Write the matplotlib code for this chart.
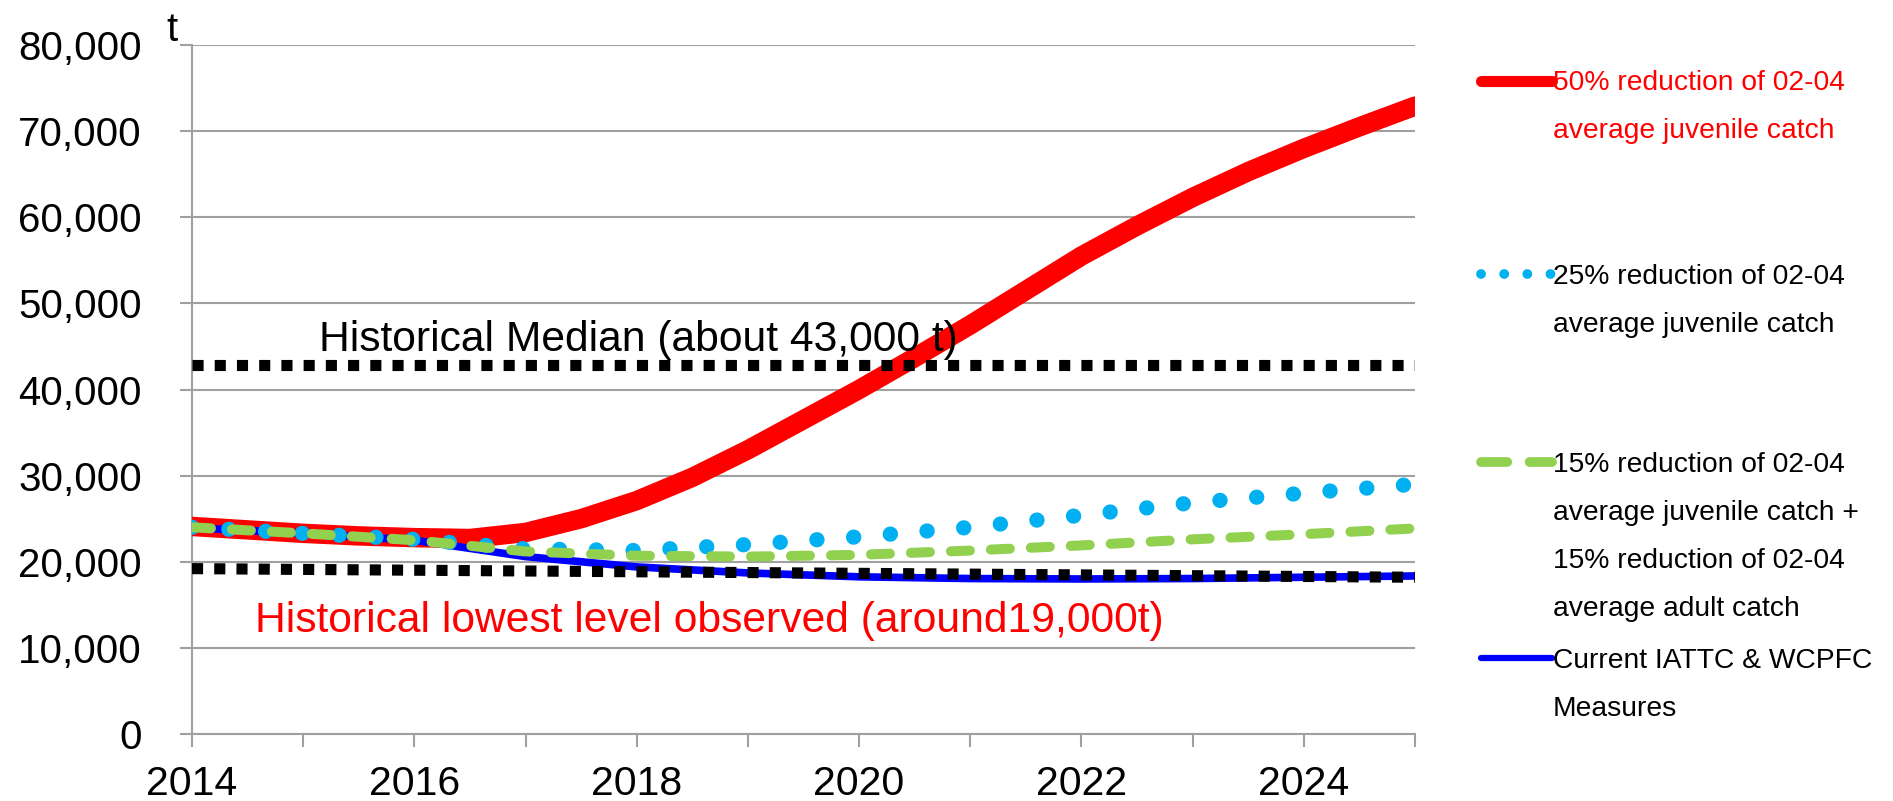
import matplotlib
matplotlib.use("Agg")
import matplotlib.pyplot as plt
from matplotlib.lines import Line2D
from matplotlib.ticker import FuncFormatter, MultipleLocator
import numpy as np

plt.rcParams['font.family'] = ['Liberation Sans', 'DejaVu Sans']

# values (tonnes)
years_half = np.arange(2014, 2025.01, 0.5)
red_50 = [24100, 23700, 23300, 23000, 22800, 22700, 23400, 25000, 27100, 29800,
          33000, 36500, 40000, 43700, 47500, 51500, 55500, 59000, 62300, 65300,
          68000, 70500, 72900]
years = np.arange(2014, 2026)
cyan_25 = [24000, 23300, 22600, 21500, 21300, 22000, 22900, 24000, 25400, 26850, 27970, 29000]
green_15 = [24000, 23300, 22500, 21200, 20700, 20600, 20800, 21300, 21900, 22600, 23200, 23870]
blue_cur = [23950, 23300, 22500, 20600, 19400, 18700, 18250, 18050, 18000, 18050, 18200, 18350]
median_x = [2014, 2025]
median_y = [42900, 42900]
lowest_x = [2014, 2025]
lowest_y = [19200, 18200]

labels = ["50% reduction of 02-04\naverage juvenile catch",
          "25% reduction of 02-04\naverage juvenile catch",
          "15% reduction of 02-04\naverage juvenile catch +\n15% reduction of 02-04\naverage adult catch",
          "Current IATTC & WCPFC\nMeasures"]

W, H = 1893, 801
fig = plt.figure(figsize=(W / 100, H / 100), dpi=100)
ax = fig.add_axes([192 / W, 1 - 734 / H, (1415 - 192) / W, (734 - 45) / H])

RED, CYAN, GREEN, BLUE = "#ff0000", "#00b0f0", "#92d050", "#0000ff"

ax.plot(years_half, red_50, color=RED, lw=14, solid_capstyle="round", zorder=3)
ax.plot(years, blue_cur, color=BLUE, lw=5.5, solid_capstyle="round", zorder=4)
ax.plot(years, cyan_25, color=CYAN, lw=11, linestyle=(0, (0.01, 2.4)),
        dash_capstyle="round", zorder=5)
ax.plot(years, green_15, color=GREEN, lw=7.2, linestyle=(0, (1.9, 2.1)),
        dash_capstyle="round", zorder=5)
ax.plot(median_x, median_y, color="black", lw=8, linestyle=(0, (1, 1)),
        dash_capstyle="butt", zorder=6)
ax.plot(lowest_x, lowest_y, color="black", lw=8, linestyle=(0, (1, 1)),
        dash_capstyle="butt", zorder=6)

ax.set_xlim(2014, 2025)
ax.set_ylim(0, 80000)
ax.yaxis.set_major_locator(MultipleLocator(10000))
ax.yaxis.set_major_formatter(FuncFormatter(lambda v, p: f"{int(v):,}"))
ax.xaxis.set_major_locator(MultipleLocator(2))
ax.xaxis.set_minor_locator(MultipleLocator(1))
ax.grid(axis="y", color="#a0a0a0", lw=1.5, zorder=0)
for s in ["top", "right"]:
    ax.spines[s].set_visible(False)
for s in ["left", "bottom"]:
    ax.spines[s].set_color("#a0a0a0")
    ax.spines[s].set_linewidth(1.5)
ax.tick_params(axis="y", length=9, width=1.5, color="#a0a0a0", pad=27, labelsize=29)
ax.tick_params(axis="x", which="both", length=9, width=1.5, color="#a0a0a0", pad=13, labelsize=29.5)

fig.text(172 / W, 1 - 30 / H, "t", fontsize=29, ha="center", va="center")

ax.text(2015.14, 45800, "Historical Median (about 43,000 t)", fontsize=30.7,
        va="center", ha="left", color="black", zorder=7)
ax.text(2014.57, 13100, "Historical lowest level observed (around19,000t)", fontsize=30.7,
        va="center", ha="left", color=RED, zorder=7)

# legend drawn by hand, Excel style
handle_y = [81, 274, 462, 658]
styles = [dict(color=RED, lw=8, solid_capstyle="round"),
          dict(color=CYAN, lw=7, linestyle=(0, (0.01, 2.37)), dash_capstyle="round"),
          dict(color=GREEN, lw=7, linestyle=(0, (2.7, 2.3)), dash_capstyle="round"),
          dict(color=BLUE, lw=4.5, solid_capstyle="round")]
text_colors = [RED, "black", "black", "black"]
for hy, st, lab, tc in zip(handle_y, styles, labels, text_colors):
    fig.add_artist(Line2D([1481 / W, 1552 / W], [1 - hy / H, 1 - hy / H], **st))
    fig.text(1553 / W, 1 - (hy - 10.5) / H, lab, fontsize=20.3, color=tc,
             ha="left", va="top", linespacing=2.1)

fig.savefig("out.png", dpi=100)
